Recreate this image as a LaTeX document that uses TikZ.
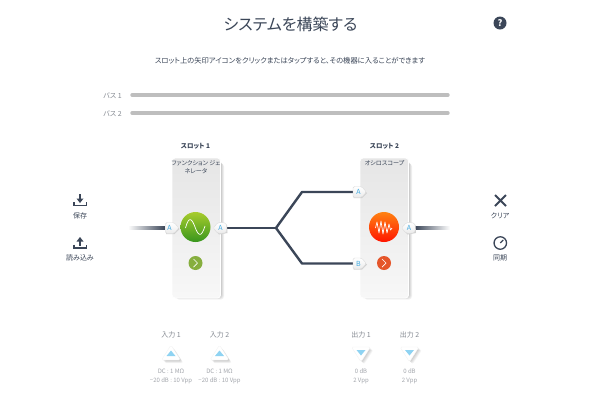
\documentclass[tikz,border=0pt]{standalone}
\usepackage{fontspec}
\setmainfont[RawFeature=+palt]{Noto Sans CJK JP}
\usetikzlibrary{calc}
\definecolor{ink}{HTML}{3B4658}
\definecolor{midgray}{HTML}{858A92}
\definecolor{lightgray}{HTML}{A4A7AD}
\definecolor{barc}{HTML}{BEBEBE}
\definecolor{portblue}{HTML}{3FA9E0}
\definecolor{triblue}{HTML}{8FD3F2}
\definecolor{greentop}{HTML}{A8CC2C}
\definecolor{greenbot}{HTML}{38961E}
\definecolor{redtop}{HTML}{FF8212}
\definecolor{redbot}{HTML}{FF1500}
\definecolor{greendot}{HTML}{86AE3E}
\definecolor{reddot}{HTML}{E5562B}
\newcommand{\fsz}[1]{\fontsize{#1}{#1}\selectfont}
\tikzset{
  txt/.style={inner sep=0pt,align=center,text=ink,font=\fsz{7}},
  dim/.style={txt,text=midgray},
  spec/.style={txt,text=lightgray,font=\fsz{6}},
  card/.style={rectangle,rounded corners=3pt,minimum width=48.5pt,minimum height=140pt,inner sep=0pt,top color=black!10,bottom color=black!3,draw=white,line width=.8pt},
  wire/.style={draw=ink,line width=2.4pt,line join=round},
  bar/.style={draw=barc,line width=3.4pt,line cap=round},
  icon/.style={draw=ink,line width=1.7pt},
  arrowdot/.style={circle,minimum size=14pt,inner sep=0pt},
  glyph/.style={draw=white,line width=.7pt,line join=round},
  portfill/.style={top color=white,bottom color=black!8,draw=black!14,line width=.4pt,rounded corners=1.5pt},
  portlabel/.style={inner sep=0pt,text=portblue,font=\fsz{7}},
  soft/.style={fill=black,opacity=.05,draw=none},
  softtri/.style={fill=black,opacity=.035,draw=none,rounded corners=2pt},
}
\begin{document}
\begin{tikzpicture}[x=1pt,y=-1pt]
\useasboundingbox[fill=white] (0,0) rectangle (600,400);
% header
\node[txt,font=\fsz{16}] (title) at (290.5,24) {システムを構築する};
\node[circle,fill=ink,minimum size=13pt,inner sep=0pt,text=white,font=\bfseries\fsz{9}] (help) at (500,23) {?};
\node[txt,font=\fsz{7.3}] (sub) at (290,60.5) {スロット上の矢印アイコンをクリックまたはタップすると、その機器に入ることができます};
% buses
\node[dim] (b1) at (112.5,95.5) {バス 1};
\node[dim] (b2) at (112.5,113.5) {バス 2};
\coordinate (b1s) at (132,95); \coordinate (b1e) at (448,95);
\coordinate (b2s) at (132,113); \coordinate (b2e) at (448,113);
\draw[bar] (b1s) -- (b1e);
\draw[bar] (b2s) -- (b2e);
% slot labels
\node[txt,font=\bfseries\fsz{6.5}] (s1) at (195.5,146) {スロット 1};
\node[txt,font=\bfseries\fsz{6.5}] (s2) at (384.5,146) {スロット 2};
% card shadows
\foreach \d in {0,.7,1.4,2.1,2.8,3.5}{
  \fill[soft,rounded corners=3pt] (172.5+\d,160+\d) rectangle (220.5+\d,297+\d-1);
  \fill[soft,rounded corners=3pt] (360.5+\d,160+\d) rectangle (408.5+\d,297+\d-1);
}
\node[card] (c1) at (196.3,228) {};
\node[card] (c2) at (384.3,228) {};
\node[txt,font=\fsz{6.1}] (c1t) at (196,167.5) {ファンクション ジェ\\[2pt]ネレータ};
\node[txt,font=\fsz{6.1}] (c2t) at (384.5,163.5) {オシロスコープ};
% wires
\coordinate (fork) at (276,228);
\coordinate (up) at (302,192);
\coordinate (dn) at (302,263.5);
\coordinate (inL) at (128,228);
\coordinate (inR) at (165,228);
\coordinate (outL) at (415,228);
\coordinate (outR) at (450,228);
\shade[left color=white,right color=ink] ($(inL)+(0,-1.2)$) rectangle ($(inR)+(0,1.2)$);
\shade[left color=ink,right color=white] ($(outL)+(0,-1.2)$) rectangle ($(outR)+(0,1.2)$);
\draw[wire] (226,228) -- (fork);
\draw[wire] (fork) -- (up) -- (353,192);
\draw[wire] (fork) -- (dn) -- (353,263.5);
% port bodies
\foreach \x/\y/\n in {171/228/pa,358.5/192/pb,358.5/263.5/pc}{
  \fill[black!18] (\x-5,\y-4.5+1) -- (\x+3.5,\y-4.5+1) -- (\x+8.5,\y+1) -- (\x+3.5,\y+6) -- (\x-5,\y+6) -- cycle;
  \path[portfill] (\x-5.5,\y-5.5) -- (\x+3,\y-5.5) -- (\x+8,\y) -- (\x+3,\y+5.5) -- (\x-5.5,\y+5.5) -- cycle;
}
\foreach \x/\y in {221/228,409.5/228}{
  \fill[black!18] (\x-6.5,\y+1) -- (\x-2,\y-4.5) -- (\x+6,\y-3) -- (\x+6.5,\y+5) -- (\x-2,\y+6.5) -- cycle;
  \path[portfill] (\x-8,\y) -- (\x-3,\y-5.5) -- (\x+5,\y-5) -- (\x+6,\y) -- (\x+5,\y+5) -- (\x-3,\y+5.5) -- cycle;
}
\node[portlabel] (i1) at (169.5,228) {A};
\node[portlabel] (o1) at (220.5,228) {A};
\node[portlabel] (i2a) at (358.5,192) {A};
\node[portlabel] (i2b) at (358.5,263.5) {B};
\node[portlabel] (o2) at (409,228) {A};
% instrument discs
\node[circle,minimum size=30pt,inner sep=0pt,top color=greentop,bottom color=greenbot] (g1) at (195.5,227) {};
\node[circle,minimum size=30pt,inner sep=0pt,top color=redtop,bottom color=redbot] (g2) at (384,227) {};
\draw[glyph] (185.5,228) .. controls (189,215) and (192,219) .. (195,227) .. controls (198,235) and (201,239) .. (205,226);
\draw[glyph] (375.5,228) -- (377,222) -- (379,233) -- (381,221) -- (383,234) -- (385,222) -- (387,233) -- (389,224) -- (390.5,230) -- (392,228);
\node[arrowdot,fill=greendot] (a1) at (195.5,263) {};
\node[arrowdot,fill=reddot] (a2) at (384,263) {};
\draw[glyph] (193.5,259) -- (197.5,263) -- (193.5,267);
\draw[glyph] (382,259) -- (386,263) -- (382,267);
% left icons
\coordinate (sv) at (80,200);
\draw[icon] ($(sv)+(-6,2)$) -- ($(sv)+(-6,5.5)$) -- ($(sv)+(6.5,5.5)$) -- ($(sv)+(6.5,2)$);
\draw[icon] ($(sv)+(0,-6)$) -- ($(sv)+(0,-.5)$);
\fill[ink] ($(sv)+(-3.5,-1.5)$) -- ($(sv)+(3.5,-1.5)$) -- ($(sv)+(0,3)$) -- cycle;
\node[txt] (svt) at (80,216) {保存};
\coordinate (ld) at (80,243);
\draw[icon] ($(ld)+(-6,1.5)$) -- ($(ld)+(-6,5)$) -- ($(ld)+(6.5,5)$) -- ($(ld)+(6.5,1.5)$);
\draw[icon] ($(ld)+(0,2.5)$) -- ($(ld)+(0,-2)$);
\fill[ink] ($(ld)+(-3.5,-1.5)$) -- ($(ld)+(3.5,-1.5)$) -- ($(ld)+(0,-6)$) -- cycle;
\node[txt] (ldt) at (80,258) {読み込み};
% right icons
\coordinate (cl1) at (495,195); \coordinate (cl2) at (506,206);
\coordinate (cl3) at (506,195); \coordinate (cl4) at (495,206);
\draw[icon,line width=2pt] (cl1) -- (cl2) (cl3) -- (cl4);
\node[txt] (clt) at (500,215.5) {クリア};
\node[circle,draw=ink,line width=1.3pt,minimum size=12.5pt,inner sep=0pt] (sy) at (500.3,243) {};
\draw[ink,line width=1.2pt] (sy.center) -- ++(3,-3);
\node[txt] (syt) at (500,258) {同期};
% bottom terminals
\foreach \x/\n in {171/1,219.5/2}{
  \foreach \d in {.5,1,1.5,2,2.5,3}{
    \fill[softtri] (\x+\d,345.5+\d) -- (\x+9.5+\d,360+\d) -- (\x-9.5+\d,360+\d) -- cycle;
  }
  \path[fill=white,draw=black!5,line width=.3pt,rounded corners=1.5pt] (\x,345) -- (\x+9.5,360) -- (\x-9.5,360) -- cycle;
  \fill[triblue] (\x,350.5) -- (\x+4.5,356) -- (\x-4.5,356) -- cycle;
  \node[dim] (it\n) at (\x,334.5) {入力 \n};
  \node[spec] (ia\n) at (\x,371.5) {DC : 1 MΩ};
  \node[spec] (ib\n) at (\x,380.5) {−20 dB : 10 Vpp};
}
\foreach \x/\n in {361/1,409.5/2}{
  \foreach \d in {.5,1,1.5,2,2.5,3}{
    \fill[softtri] (\x-9.5+\d,347+\d) -- (\x+9.5+\d,347+\d) -- (\x+\d,361.5+\d) -- cycle;
  }
  \path[fill=white,draw=black!5,line width=.3pt,rounded corners=1.5pt] (\x-9.5,347) -- (\x+9.5,347) -- (\x,362) -- cycle;
  \fill[triblue] (\x-4.5,350) -- (\x+4.5,350) -- (\x,355.5) -- cycle;
  \node[dim] (ot\n) at (\x,334.5) {出力 \n};
  \node[spec] (oa\n) at (\x,371.5) {0 dB};
  \node[spec] (ob\n) at (\x,380.5) {2 Vpp};
}
\end{tikzpicture}
\end{document}
